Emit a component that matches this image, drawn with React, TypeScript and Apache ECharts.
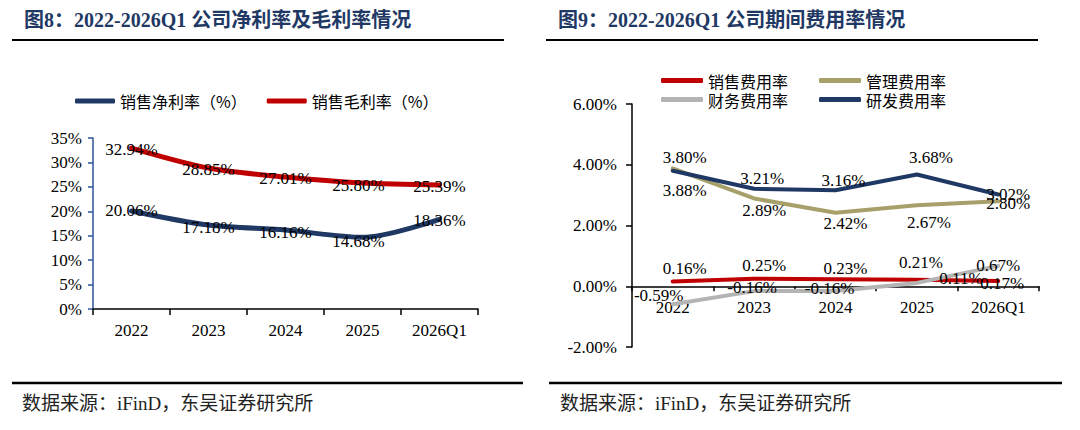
import React, { useEffect, useRef } from 'react';
import * as echarts from 'echarts';

// categories
const years = ['2022', '2023', '2024', '2025', '2026Q1'];

// 图8: net / gross margin (%)
const netMargin = [20.06, 17.18, 16.16, 14.68, 18.36];
const grossMargin = [32.94, 28.85, 27.01, 25.8, 25.39];
const marginTicks = [0, 5, 10, 15, 20, 25, 30, 35];

// 图9: expense ratios (%)
const sellingRate = [0.16, 0.25, 0.23, 0.21, 0.17];
const adminRate = [3.88, 2.89, 2.42, 2.67, 2.8];
const financeRate = [-0.59, -0.16, -0.16, 0.11, 0.67];
const rdRate = [3.8, 3.21, 3.16, 3.68, 3.02];
const expenseTicks = [-2, 0, 2, 4, 6];

const NAVY = '#1f3864';
const RED = '#c00000';
const OLIVE = '#a8a06a';
const GRAY = '#b4b4b4';
const SERIF = '"Liberation Serif", "Noto Sans CJK SC", serif';
const CJK = '"Noto Sans CJK SC", sans-serif';

// label offsets [dx, dy] around each point (layout, not data)
const netOff = [[0, 0], [0, 2], [0, 2], [-4, 4], [0, 1]];
const grossOff = [[0, 1], [0, 1], [0, 1], [-4, 3], [0, 2]];
const rdOff = [[12, -13], [8, -10], [8, -10], [14, -17], [10, 0]];
const adminOff = [[12, 22], [10, 12], [10, 11], [12, 17], [10, 2]];
const sellingOff = [[12, -13], [10, -13], [10, -11], [4, -17], [4, 2]];
const financeOff = [[-14, -9], [-2, -4], [-6, -3], [44, -4], [0, 0]];

// right grid geometry
const R_TOP = 104;
const R_HEIGHT = 243;

const withLabels = (vals: number[], offs: number[][], fmt: (v: number) => string) =>
    vals.map((v, i) => ({
        value: v,
        label: { show: true, position: 'inside', offset: offs[i], formatter: () => fmt(v) },
    }));

const App: React.FC = () => {
    const chartRef = useRef<HTMLDivElement>(null);

    useEffect(() => {
        document.body.style.margin = '0';
        const chartDom = chartRef.current!;
        const myChart = echarts.init(chartDom, undefined, { renderer: 'svg' });

        const lineLabel = { fontFamily: SERIF, fontSize: 17, color: '#000' };

        const leftSeries = (name: string, vals: number[], offs: number[][], color: string) => ({
            name,
            type: 'line',
            xAxisIndex: 0,
            yAxisIndex: 0,
            smooth: 0.3,
            symbol: 'circle',
            symbolSize: 1,
            itemStyle: { color },
            lineStyle: { color, width: 5, cap: 'round' },
            label: lineLabel,
            data: withLabels(vals, offs, (v) => v.toFixed(2) + '%'),
        });

        const rightSeries = (name: string, vals: number[], offs: number[][], color: string) => ({
            name,
            type: 'line',
            xAxisIndex: 1,
            yAxisIndex: 1,
            symbol: 'circle',
            symbolSize: 1,
            itemStyle: { color },
            lineStyle: { color, width: 4, cap: 'round' },
            label: lineLabel,
            data: withLabels(vals, offs, (v) => v.toFixed(2) + '%'),
        });

        const legendText = { fontFamily: CJK, fontSize: 16, color: '#000' };

        // move the category axis of 图9 up to the zero line (labels included)
        const eMin = expenseTicks[0];
        const eMax = expenseTicks[expenseTicks.length - 1];
        const zeroShift = -(R_HEIGHT * (0 - eMin)) / (eMax - eMin);

        const option: any = {
            animation: false,
            backgroundColor: '#fff',
            legend: [
                {
                    data: ['销售净利率（%）', '销售毛利率（%）'],
                    left: 70,
                    top: 88,
                    icon: 'roundRect',
                    itemWidth: 40,
                    itemHeight: 5,
                    itemGap: 20,
                    textStyle: legendText,
                },
                {
                    data: ['销售费用率', '管理费用率'],
                    left: 656,
                    top: 67,
                    icon: 'roundRect',
                    itemWidth: 42,
                    itemHeight: 5,
                    itemGap: 31,
                    textStyle: { ...legendText, lineHeight: 17 },
                },
                {
                    data: ['财务费用率', '研发费用率'],
                    left: 656,
                    top: 86,
                    icon: 'roundRect',
                    itemWidth: 42,
                    itemHeight: 5,
                    itemGap: 31,
                    textStyle: { ...legendText, lineHeight: 17 },
                },
            ],
            grid: [
                { left: 93, top: 138, width: 385, height: 171 },
                { left: 632, top: R_TOP, width: 407, height: R_HEIGHT },
            ],
            xAxis: [
                {
                    type: 'category',
                    gridIndex: 0,
                    data: years,
                    boundaryGap: true,
                    axisLine: { lineStyle: { color: '#000', width: 1.5 } },
                    axisTick: { show: true, length: 6, lineStyle: { color: '#000', width: 1.5 } },
                    axisLabel: { fontFamily: SERIF, fontSize: 17, color: '#000', margin: 13 },
                },
                {
                    type: 'category',
                    gridIndex: 1,
                    data: years,
                    boundaryGap: true,
                    position: 'bottom',
                    offset: zeroShift,
                    axisLine: { onZero: false, lineStyle: { color: '#000', width: 1.5 } },
                    axisTick: { show: true, length: 5, lineStyle: { color: '#000', width: 1.5 } },
                    axisLabel: { fontFamily: SERIF, fontSize: 17, color: '#000', margin: 13 },
                },
            ],
            yAxis: [
                {
                    type: 'value',
                    gridIndex: 0,
                    min: marginTicks[0],
                    max: marginTicks[marginTicks.length - 1],
                    interval: 5,
                    splitLine: { show: false },
                    axisLine: { show: true, lineStyle: { color: '#2e5597', width: 1.5 } },
                    axisTick: { show: true, length: 5, lineStyle: { color: '#2e5597', width: 1.5 } },
                    axisLabel: {
                        fontFamily: SERIF,
                        fontSize: 17,
                        color: '#000',
                        margin: 11,
                        formatter: (v: number) => v + '%',
                    },
                },
                {
                    type: 'value',
                    gridIndex: 1,
                    min: eMin,
                    max: eMax,
                    interval: 2,
                    splitLine: { show: false },
                    axisLine: { show: true, lineStyle: { color: '#000', width: 1.5 } },
                    axisTick: { show: true, length: 6, lineStyle: { color: '#000', width: 1.5 } },
                    axisLabel: {
                        fontFamily: SERIF,
                        fontSize: 17,
                        color: '#000',
                        margin: 15,
                        formatter: (v: number) => v.toFixed(2) + '%',
                    },
                },
            ],
            series: [
                leftSeries('销售净利率（%）', netMargin, netOff, NAVY),
                leftSeries('销售毛利率（%）', grossMargin, grossOff, RED),
                rightSeries('销售费用率', sellingRate, sellingOff, RED),
                rightSeries('管理费用率', adminRate, adminOff, OLIVE),
                rightSeries('财务费用率', financeRate, financeOff, GRAY),
                rightSeries('研发费用率', rdRate, rdOff, NAVY),
            ],
            graphic: [
                {
                    type: 'text',
                    left: 24,
                    top: 10,
                    style: {
                        text: '图8：2022-2026Q1 公司净利率及毛利率情况',
                        font: `bold 20px ${SERIF}`,
                        fill: NAVY,
                    },
                },
                {
                    type: 'text',
                    left: 558,
                    top: 10,
                    style: {
                        text: '图9：2022-2026Q1 公司期间费用率情况',
                        font: `bold 20px ${SERIF}`,
                        fill: NAVY,
                    },
                },
                { type: 'line', shape: { x1: 12, y1: 40, x2: 504, y2: 40 }, style: { stroke: '#000', lineWidth: 2 } },
                { type: 'line', shape: { x1: 546, y1: 40, x2: 1038, y2: 40 }, style: { stroke: '#000', lineWidth: 2 } },
                { type: 'line', shape: { x1: 12, y1: 383, x2: 523, y2: 383 }, style: { stroke: '#000', lineWidth: 2.5 } },
                { type: 'line', shape: { x1: 549, y1: 383, x2: 1062, y2: 383 }, style: { stroke: '#000', lineWidth: 2.5 } },
                {
                    type: 'text',
                    left: 22,
                    top: 394,
                    style: { text: '数据来源：iFinD，东吴证券研究所', font: `19px ${SERIF}`, fill: '#222' },
                },
                {
                    type: 'text',
                    left: 560,
                    top: 394,
                    style: { text: '数据来源：iFinD，东吴证券研究所', font: `19px ${SERIF}`, fill: '#222' },
                },
            ],
        };

        myChart.setOption(option);

        return () => {
            myChart.dispose();
        };
    }, []);

    return <div ref={chartRef} style={{ width: 1080, height: 430 }} />;
};

export default App;
